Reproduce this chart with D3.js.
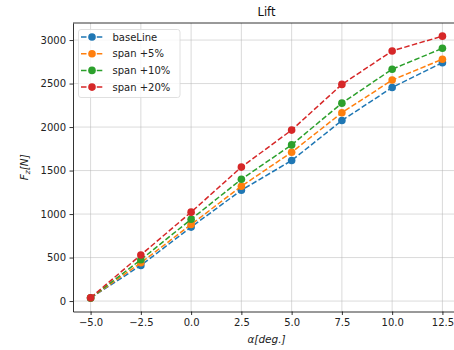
<!DOCTYPE html>
<html>
<head>
<meta charset="utf-8">
<script src="https://cdn.jsdelivr.net/npm/d3@7"></script>
<style>
  body { margin: 0; background: #fff; }
  svg { font-family: "DejaVu Sans", sans-serif; }
</style>
</head>
<body>
<svg id="chart" width="454" height="350"></svg>
<script>
// angle of attack
const alpha = [-5, -2.5, 0, 2.5, 5, 7.5, 10, 12.5];
const baseLine = [35, 410, 850, 1275, 1615, 2075, 2455, 2740];
const span5 = [35, 440, 880, 1320, 1710, 2165, 2540, 2780];
const span10 = [35, 475, 940, 1400, 1795, 2275, 2665, 2905];
const span20 = [38, 530, 1022, 1540, 1965, 2490, 2875, 3045];
const seriesNames = ['baseLine', 'span +5%', 'span +10%', 'span +20%'];
const colors = ['#1f77b4', '#ff7f0e', '#2ca02c', '#d62728'];
const xTicks = [-5, -2.5, 0, 2.5, 5, 7.5, 10, 12.5];
const yTicks = [0, 500, 1000, 1500, 2000, 2500, 3000];

const allSeries = [baseLine, span5, span10, span20];

const svg = d3.select('#chart');
const pLeft = 73, pRight = 460, pTop = 23, pBottom = 311.5;

const x = d3.scaleLinear().domain([-5.875, 13.375]).range([pLeft, pRight]);
const y = d3.scaleLinear().domain([-120, 3196]).range([pBottom, pTop]);

// grid
svg.append('g').selectAll('line').data(xTicks).join('line')
  .attr('x1', d => x(d)).attr('x2', d => x(d))
  .attr('y1', pTop).attr('y2', pBottom)
  .attr('stroke', '#b0b0b0').attr('stroke-opacity', 0.6).attr('stroke-width', 0.8);
svg.append('g').selectAll('line').data(yTicks).join('line')
  .attr('x1', pLeft).attr('x2', pRight)
  .attr('y1', d => y(d)).attr('y2', d => y(d))
  .attr('stroke', '#b0b0b0').attr('stroke-opacity', 0.6).attr('stroke-width', 0.8);

// axes
const fmtX = d => d3.format('.1f')(d).replace('-', '\u2212');
const xAxis = svg.append('g')
  .attr('transform', `translate(0,${pBottom})`)
  .call(d3.axisBottom(x).tickValues(xTicks).tickFormat(fmtX)
    .tickSizeInner(3.5).tickSizeOuter(0).tickPadding(3.5));
const yAxis = svg.append('g')
  .attr('transform', `translate(${pLeft},0)`)
  .call(d3.axisLeft(y).tickValues(yTicks).tickFormat(d3.format('d'))
    .tickSizeInner(3.5).tickSizeOuter(0).tickPadding(3.5));
[xAxis, yAxis].forEach(g => {
  g.select('.domain').attr('stroke', '#000').attr('stroke-width', 0.8);
  g.selectAll('.tick line').attr('stroke', '#000').attr('stroke-width', 0.8);
  g.selectAll('.tick text').attr('fill', '#222').style('font-size', '10px')
   .style('font-family', '"DejaVu Sans", sans-serif');
});
// top spine
svg.append('line').attr('x1', pLeft).attr('x2', pRight).attr('y1', pTop).attr('y2', pTop)
  .attr('stroke', '#000').attr('stroke-width', 0.8);

// series
const line = d3.line().x((d, i) => x(alpha[i])).y(d => y(d));
allSeries.forEach((s, k) => {
  const g = svg.append('g');
  g.append('path').datum(s).attr('d', line)
    .attr('fill', 'none').attr('stroke', colors[k])
    .attr('stroke-width', 1.5).attr('stroke-dasharray', '5.5,2.4');
  g.selectAll('circle').data(s).join('circle')
    .attr('cx', (d, i) => x(alpha[i])).attr('cy', d => y(d))
    .attr('r', 3.8).attr('fill', colors[k]);
});

// title and labels
svg.append('text').attr('x', (pLeft + pRight) / 2).attr('y', 16)
  .attr('text-anchor', 'middle').style('font-size', '11.5px').attr('fill', '#111').text('Lift');

svg.append('text').attr('x', (pLeft + pRight) / 2).attr('y', 343)
  .attr('text-anchor', 'middle').style('font-size', '10.5px').attr('fill', '#222')
  .style('font-style', 'italic').text('\u03b1[deg.]');

const yl = svg.append('text').attr('transform', `translate(28,${(pTop + pBottom) / 2}) rotate(-90)`)
  .attr('text-anchor', 'middle').style('font-size', '10.5px').attr('fill', '#222')
  .style('font-style', 'italic');
yl.append('tspan').text('F');
yl.append('tspan').attr('baseline-shift', '-25%').style('font-size', '7.5px').text('z');
yl.append('tspan').text('[N]');

// legend
const lg = svg.append('g');
lg.append('rect').attr('x', 78.5).attr('y', 29.5).attr('width', 101.5).attr('height', 68)
  .attr('rx', 2.5).attr('fill', '#fff').attr('fill-opacity', 0.8)
  .attr('stroke', '#d8d8d8').attr('stroke-width', 0.8);
seriesNames.forEach((name, k) => {
  const ry = 37 + k * 16.7;
  lg.append('line').attr('x1', 81).attr('x2', 103).attr('y1', ry).attr('y2', ry)
    .attr('stroke', colors[k]).attr('stroke-width', 1.5).attr('stroke-dasharray', '5.5,2.4');
  lg.append('circle').attr('cx', 92).attr('cy', ry).attr('r', 3.8).attr('fill', colors[k]);
  lg.append('text').attr('x', 112.5).attr('y', ry + 3.6).style('font-size', '10px')
    .attr('fill', '#222').text(name);
});
</script>
</body>
</html>
